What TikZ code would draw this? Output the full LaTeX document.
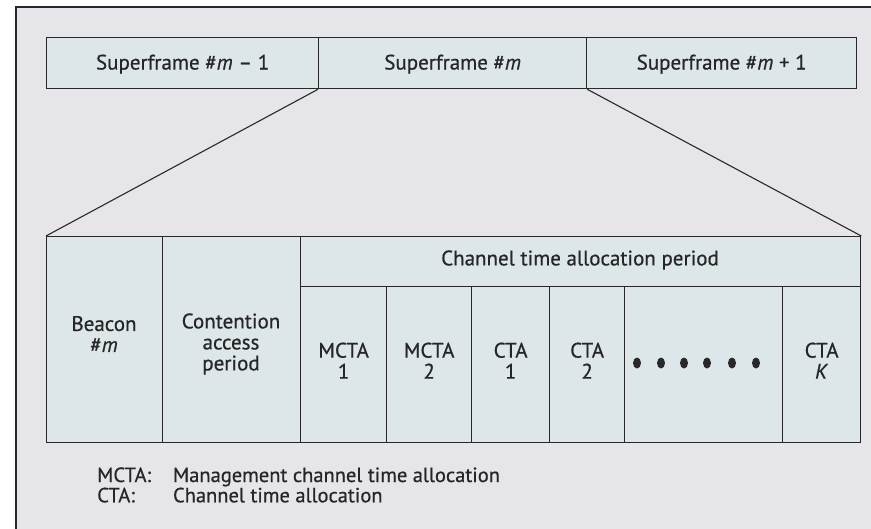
\documentclass[tikz,border=0pt]{standalone}
\usepackage{fontspec}
\usetikzlibrary{shapes.geometric}
\setmainfont{PT Sans}
\newfontfamily\lbf{PT Sans}[FakeBold=0.6]
\definecolor{bg}{RGB}{230,230,234}
\definecolor{cellc}{RGB}{221,231,233}
\definecolor{ln}{RGB}{40,40,40}
\definecolor{tx}{RGB}{38,38,38}
\begin{document}
\begin{tikzpicture}[x=1pt,y=-1pt,
  cell/.style={draw=ln, line width=1.3pt, fill=cellc, rectangle, inner sep=0pt, anchor=north west},
  lbl/.style={text=tx, font=\lbf\fontsize{21}{21}\selectfont, align=center, inner sep=0pt},
  lgd/.style={text=tx, font=\lbf\fontsize{20.5}{19}\selectfont, align=left, inner sep=0pt, anchor=base west},
  conn/.style={draw=ln, line width=1.1pt},
  dotm/.style={fill=ln, ellipse, inner sep=0pt, minimum width=8pt, minimum height=11pt}]
\useasboundingbox (0,0) rectangle (871,528);
\fill[white] (0,0) rectangle (871,528);
\draw[fill=bg, draw=ln, line width=1.3pt] (16,7) rectangle (890,550);
% superframes
\node[cell, minimum width=272pt, minimum height=51pt] (sf1) at (46,37) {};
\node[cell, minimum width=268pt, minimum height=51pt] (sf2) at (318,37) {};
\node[cell, minimum width=270pt, minimum height=51pt] (sf3) at (586,37) {};
\node[lbl] at ([yshift=-1pt]sf1.center) {Superframe \#\textit{m} – 1};
\node[lbl] at ([yshift=-1pt]sf2.center) {Superframe \#\textit{m}};
\node[lbl] at ([yshift=-1pt]sf3.center) {Superframe \#\textit{m} + 1};
% lower table
\node[cell, minimum width=116pt, minimum height=206pt] (bcn) at (46,236) {};
\node[cell, minimum width=138pt, minimum height=206pt] (cap) at (162,236) {};
\node[cell, minimum width=560pt, minimum height=50pt] (ctap) at (300,236) {};
\node[cell, minimum width=86pt, minimum height=156pt] (m1) at (300,286) {};
\node[cell, minimum width=85pt, minimum height=156pt] (m2) at (386,286) {};
\node[cell, minimum width=78pt, minimum height=156pt] (c1) at (471,286) {};
\node[cell, minimum width=75pt, minimum height=156pt] (c2) at (549,286) {};
\node[cell, minimum width=158pt, minimum height=156pt] (dd) at (624,286) {};
\node[cell, minimum width=78pt, minimum height=156pt] (ck) at (782,286) {};
\node[lbl] at (104,334) {Beacon\\\#\textit{m}};
\node[lbl] at (231,344) {Contention\\access\\period};
\node[lbl] at (580,260) {Channel time allocation period};
\node[lbl] at ([yshift=4pt]m1.center) {MCTA\\1};
\node[lbl] at ([yshift=4pt]m2.center) {MCTA\\2};
\node[lbl] at ([yshift=4pt]c1.center) {CTA\\1};
\node[lbl] at ([yshift=4pt]c2.center) {CTA\\2};
\node[lbl] at ([yshift=4pt]ck.center) {CTA\\\textit{K}};
\foreach \i/\x in {1/637,2/661,3/684,4/707,5/732,6/756}
  \node[dotm] (d\i) at (\x,363) {};
% connectors
\draw[conn] (sf2.south west) -- (bcn.north west);
\draw[conn] (sf2.south east) -- (ctap.north east);
% legend
\node[lgd] (lg) at (97,482)
  {\begin{tabular}[t]{@{}l@{\hspace{22pt}}l@{}}
   MCTA: & Management channel time allocation\\
   CTA:  & Channel time allocation
   \end{tabular}};
\end{tikzpicture}
\end{document}
